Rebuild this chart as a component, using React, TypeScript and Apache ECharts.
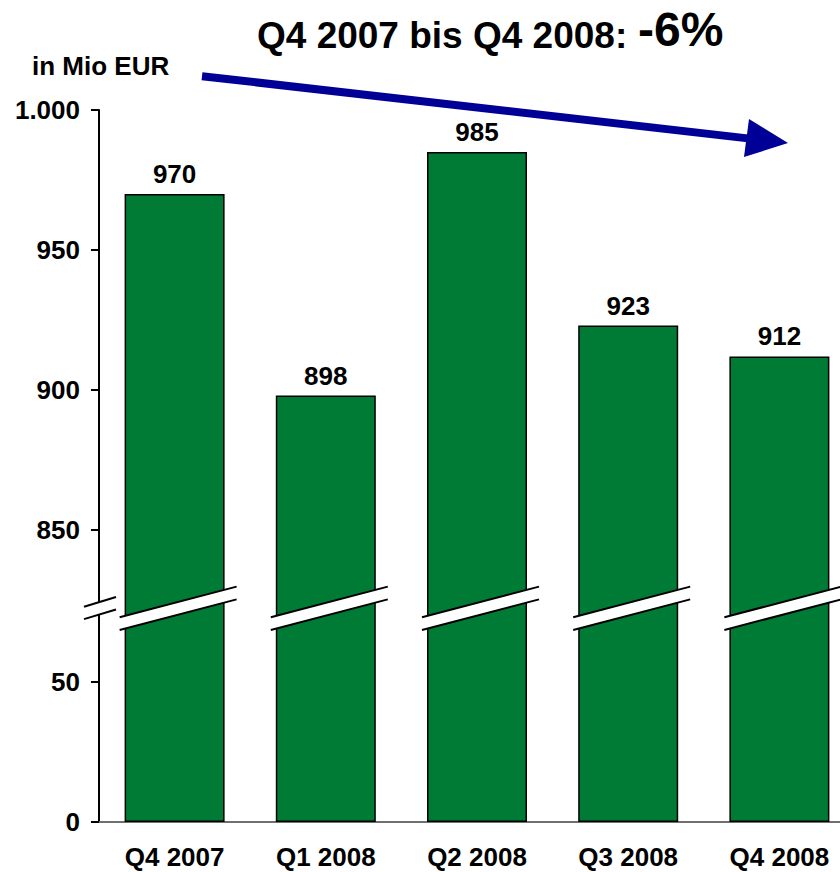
import React, { useEffect, useRef } from "react";
import * as echarts from "echarts";

const CATEGORIES = ["Q4 2007", "Q1 2008", "Q2 2008", "Q3 2008", "Q4 2008"];
const VALUES = [970, 898, 985, 923, 912];
const Y_TICKS = [0, 50, 850, 900, 950, 1000];
// value range hidden by the axis break (collapsed out of the scale)
const COLLAPSED = 745.7;
const AXIS_TOP = 1000;
// position (in the collapsed scale) of the break marks
const BREAK_MARK = 76;

const FONT = "'Liberation Sans', Arial, Helvetica, sans-serif";
const GREEN = "#007B36";
const BLUE = "#000096";

const toScale = (v: number) => (v < 500 ? v : v - COLLAPSED);
const fromScale = (d: number) => (d < 90 ? Math.round(d) : Math.round(d + COLLAPSED));
const fmt = (v: number) => String(v).replace(/\B(?=(\d{3})+(?!\d))/g, ".");

export default function App() {
  const ref = useRef<HTMLDivElement>(null);
  useEffect(() => {
    if (!ref.current) return;
    const chart = echarts.init(ref.current, null, { renderer: "svg" });
    const tickPos = Y_TICKS.map(toScale);
    chart.setOption({
      animation: false,
      backgroundColor: "#ffffff",
      textStyle: { fontFamily: FONT },
      grid: { left: 99, top: 110, right: 0, bottom: 50, outerBoundsMode: "none" },
      xAxis: {
        type: "category",
        data: CATEGORIES,
        axisLine: { show: true, lineStyle: { color: "#707070", width: 2 } },
        axisTick: { show: false },
        axisLabel: {
          margin: 22,
          color: "#000",
          fontSize: 26,
          fontWeight: "bold",
          fontFamily: FONT,
        },
      },
      yAxis: {
        type: "value",
        min: 0,
        max: toScale(AXIS_TOP),
        splitLine: { show: false },
        axisLine: { show: true, lineStyle: { color: "#000", width: 2 } },
        axisTick: {
          show: true,
          length: 8,
          customValues: tickPos,
          lineStyle: { color: "#000", width: 2 },
        },
        axisLabel: {
          customValues: tickPos,
          margin: 19,
          color: "#000",
          fontSize: 26,
          fontWeight: "bold",
          fontFamily: FONT,
          formatter: (v: number) => fmt(fromScale(v)),
        },
      },
      series: [
        {
          type: "bar",
          data: VALUES.map(toScale),
          barWidth: 100,
          itemStyle: { color: GREEN, borderColor: "#000", borderWidth: 1.5 },
          label: {
            show: true,
            position: "top",
            distance: 7,
            color: "#000",
            fontSize: 26,
            fontWeight: "bold",
            fontFamily: FONT,
            formatter: (p: any) => String(VALUES[p.dataIndex]),
          },
        },
        {
          type: "custom",
          z: 10,
          silent: true,
          clip: false,
          data: CATEGORIES.map((_, i) => [i, BREAK_MARK]),
          renderItem: (params: any, api: any) => {
            const p = api.coord([api.value(0), api.value(1)]);
            const cx = p[0];
            const cy = p[1];
            const k = 0.2615;
            const h = 6.35;
            const l = 55;
            const r = 62;
            const up1 = [cx - l, cy - h + l * k];
            const up2 = [cx + r, cy - h - r * k];
            const lo1 = [cx - l, cy + h + l * k];
            const lo2 = [cx + r, cy + h - r * k];
            const lineStyle = { stroke: "#000", lineWidth: 2 };
            const children: any[] = [
              { type: "polygon", shape: { points: [up1, up2, lo2, lo1] }, style: { fill: "#fff" } },
              { type: "line", shape: { x1: up1[0], y1: up1[1], x2: up2[0], y2: up2[1] }, style: lineStyle },
              { type: "line", shape: { x1: lo1[0], y1: lo1[1], x2: lo2[0], y2: lo2[1] }, style: lineStyle },
            ];
            if (params.dataIndex === 0) {
              const ax = params.coordSys.x;
              const ak = 0.303;
              const ah = 6.2;
              const al = 15;
              const ar = 17;
              const acy = cy - 0.8;
              const a1 = [ax - al, acy - ah + al * ak];
              const a2 = [ax + ar, acy - ah - ar * ak];
              const b1 = [ax - al, acy + ah + al * ak];
              const b2 = [ax + ar, acy + ah - ar * ak];
              children.push(
                { type: "polygon", shape: { points: [a1, a2, b2, b1] }, style: { fill: "#fff" } },
                { type: "line", shape: { x1: a1[0], y1: a1[1], x2: a2[0], y2: a2[1] }, style: lineStyle },
                { type: "line", shape: { x1: b1[0], y1: b1[1], x2: b2[0], y2: b2[1] }, style: lineStyle }
              );
            }
            return { type: "group", children };
          },
        },
      ],
      graphic: [
        {
          type: "text",
          left: 257,
          top: 17,
          style: {
            text: "Q4 2007 bis Q4 2008: ",
            fontSize: 37,
            fontWeight: "bold",
            fontFamily: FONT,
            fill: "#000",
          },
        },
        {
          type: "text",
          left: 638,
          top: 5,
          style: {
            text: "-6%",
            fontSize: 48,
            fontWeight: "bold",
            fontFamily: FONT,
            fill: "#000",
          },
        },
        {
          type: "text",
          left: 32,
          top: 53,
          style: {
            text: "in Mio EUR",
            fontSize: 26,
            fontWeight: "bold",
            fontFamily: FONT,
            fill: "#000",
          },
        },
        {
          type: "line",
          shape: { x1: 202, y1: 76.2, x2: 750, y2: 138.6 },
          style: { stroke: BLUE, lineWidth: 8, lineCap: "butt" },
        },
        {
          type: "polygon",
          shape: { points: [[749, 119], [788, 143], [744, 157]] },
          style: { fill: BLUE },
        },
      ],
    });
    return () => chart.dispose();
  }, []);
  return (
    <div
      style={{
        position: "absolute",
        left: 0,
        top: 0,
        width: 840,
        height: 872,
        overflow: "hidden",
      }}
    >
      <div ref={ref} style={{ width: 855, height: 872 }} />
    </div>
  );
}
